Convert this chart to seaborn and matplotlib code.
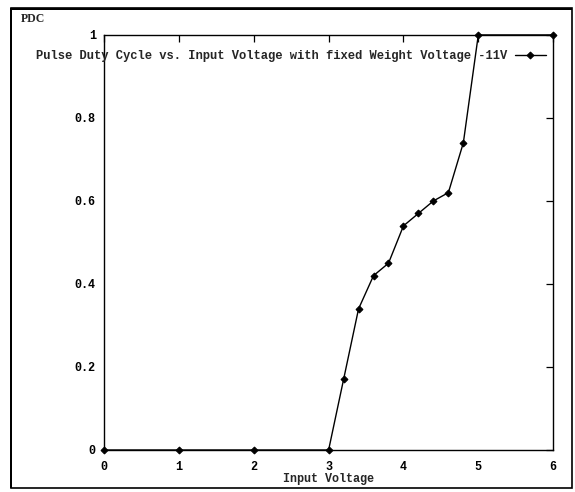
import matplotlib
matplotlib.use('Agg')
import matplotlib.pyplot as plt
import seaborn as sns
import pandas as pd
from matplotlib.patches import Rectangle
from matplotlib.ticker import FuncFormatter

# data
volt = [0, 1, 2, 3, 3.2, 3.4, 3.6, 3.8, 4.0, 4.2, 4.4, 4.6, 4.8, 5.0, 6.0]
pdc = [0, 0, 0, 0, 0.17, 0.34, 0.42, 0.45, 0.54, 0.57, 0.60, 0.62, 0.74, 1.0, 1.0]
series_label = 'Pulse Duty Cycle vs. Input Voltage with fixed Weight Voltage -11V'
x_ticks = [0, 1, 2, 3, 4, 5, 6]
y_ticks = [0, 0.2, 0.4, 0.6, 0.8, 1]

df = pd.DataFrame({'volt': volt, 'pdc': pdc})

sns.set_style('white')
plt.rcParams['font.family'] = ['Liberation Mono', 'DejaVu Sans Mono']
plt.rcParams['font.weight'] = 'bold'

fig = plt.figure(figsize=(5.75, 4.92), dpi=100)
ax = fig.add_axes([0.181, 0.0854, 0.781, 0.8436])

sns.lineplot(
    data=df, x='volt', y='pdc', ax=ax,
    color='black', linewidth=1.0,
    marker='D', markersize=3.5, markeredgecolor='black',
    sort=False, label=series_label, clip_on=False, zorder=5
)

ax.set_xlim(0, 6)
ax.set_ylim(0, 1)
ax.set_xticks(x_ticks)
ax.set_yticks(y_ticks)
ax.yaxis.set_major_formatter(FuncFormatter(lambda v, p: f'{v:g}'))
ax.tick_params(direction='in', length=5, width=0.9, top=True, right=True,
               labelsize=8.5, colors='black', pad=6)
ax.tick_params(axis='x', pad=8)
for s in ax.spines.values():
    s.set_color('black')
    s.set_linewidth(1.0)

ax.set_xlabel('Input Voltage', fontsize=8.5, fontweight='bold', labelpad=0)
ax.set_ylabel('')

ax.legend(
    loc='center right', bbox_to_anchor=(0.96, 0.886),
    bbox_transform=fig.transFigure, frameon=False,
    markerfirst=False, handlelength=2.6, handletextpad=0.6,
    borderpad=0, prop={'size': 8.7, 'weight': 'bold'}
)

fig.text(0.036, 0.962, 'PDC', fontsize=8.5, fontweight='bold',
         family=['Liberation Serif', 'DejaVu Serif'], va='center')

# scanned page border
fig.patches.append(Rectangle((0.019, 0.008), 0.975, 0.975, transform=fig.transFigure,
                             fill=False, edgecolor='black', linewidth=1.2))
fig.patches.append(Rectangle((0.017, 0.008), 0.004, 0.975, transform=fig.transFigure,
                             facecolor='black', edgecolor='none'))
fig.patches.append(Rectangle((0.017, 0.979), 0.977, 0.005, transform=fig.transFigure,
                             facecolor='black', edgecolor='none'))

fig.savefig('out.png', dpi=100)
